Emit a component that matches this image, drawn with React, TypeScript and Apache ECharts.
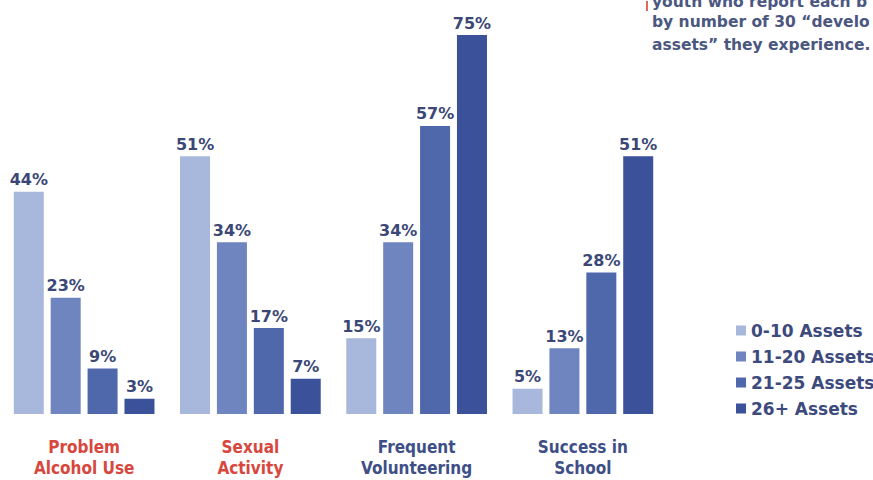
import React, { useEffect, useRef } from "react";
import * as echarts from "echarts";

const categories = ["Problem\nAlcohol Use", "Sexual\nActivity", "Frequent\nVolunteering", "Success in\nSchool"];
const categoryColors = ["#d8473d", "#d8473d", "#3e4f87", "#3e4f87"];
const seriesNames = ["0-10 Assets", "11-20 Assets", "21-25 Assets", "26+ Assets"];
const seriesColors = ["#a8b7dc", "#6f85c0", "#4f67ab", "#3b5199"];
const assets0to10 = [44, 51, 15, 5];
const assets11to20 = [23, 34, 34, 13];
const assets21to25 = [9, 17, 57, 28];
const assets26plus = [3, 7, 75, 51];
const noteLines = ["youth who report each b", "by number of 30 \u201cdevelo", "assets\u201d they experience."];

const seriesData = [assets0to10, assets11to20, assets21to25, assets26plus];

export default function App() {
  const ref = useRef<HTMLDivElement>(null);
  useEffect(() => {
    if (!ref.current) return;
    const chart = echarts.init(ref.current, undefined, { renderer: "svg" });
    const option: any = {
      animation: false,
      backgroundColor: "#ffffff",
      grid: { left: 1, width: 665, top: 35, bottom: 66, containLabel: false },
      xAxis: {
        type: "category",
        data: categories,
        axisLine: { show: false },
        axisTick: { show: false },
        axisLabel: {
          interval: 0,
          margin: 22,
          fontFamily: "'Liberation Sans Narrow', 'DejaVu Sans Condensed', sans-serif",
          fontWeight: "bold",
          fontSize: 17,
          lineHeight: 21,
          color: (_v: any, i: number) => categoryColors[i],
        },
      },
      yAxis: {
        type: "value",
        min: 0,
        max: 75,
        show: false,
        splitLine: { show: false },
      },
      legend: {
        orient: "vertical",
        left: 731,
        top: 317,
        itemWidth: 10,
        itemHeight: 10,
        itemGap: 9,
        icon: "rect",
        textStyle: {
          fontFamily: "'DejaVu Sans', sans-serif",
          fontWeight: "bold",
          fontSize: 17,
          color: "#3c4a7c",
        },
        data: seriesNames,
      },
      series: seriesNames.map((name, i) => ({
        name,
        type: "bar",
        data: seriesData[i],
        barWidth: 30,
        barGap: "23%",
        itemStyle: { color: seriesColors[i] },
        label: {
          show: true,
          position: "top",
          distance: 4,
          formatter: "{c}%",
          fontFamily: "'DejaVu Sans', sans-serif",
          fontWeight: "bold",
          fontSize: 16,
          color: "#3b4776",
        },
      })),
      graphic: [
        { type: "rect", shape: { x: 646, y: 1, width: 2, height: 10 }, style: { fill: "#e0675c" } },
        ...noteLines.map((t, i) => ({
          type: "text",
          x: 652,
          y: [2, 22, 45][i],
          style: {
            text: t,
            fontFamily: "'DejaVu Sans', sans-serif",
            fontWeight: "bold",
            fontSize: 15.5,
            fill: "#4b577f",
            verticalAlign: "middle",
            align: "left",
          },
        })),
      ],
    };
    chart.setOption(option);
    return () => chart.dispose();
  }, []);
  return (
    <div
      ref={ref}
      style={{ position: "fixed", left: 0, top: 0, width: 873, height: 480, background: "#fff" }}
    />
  );
}
